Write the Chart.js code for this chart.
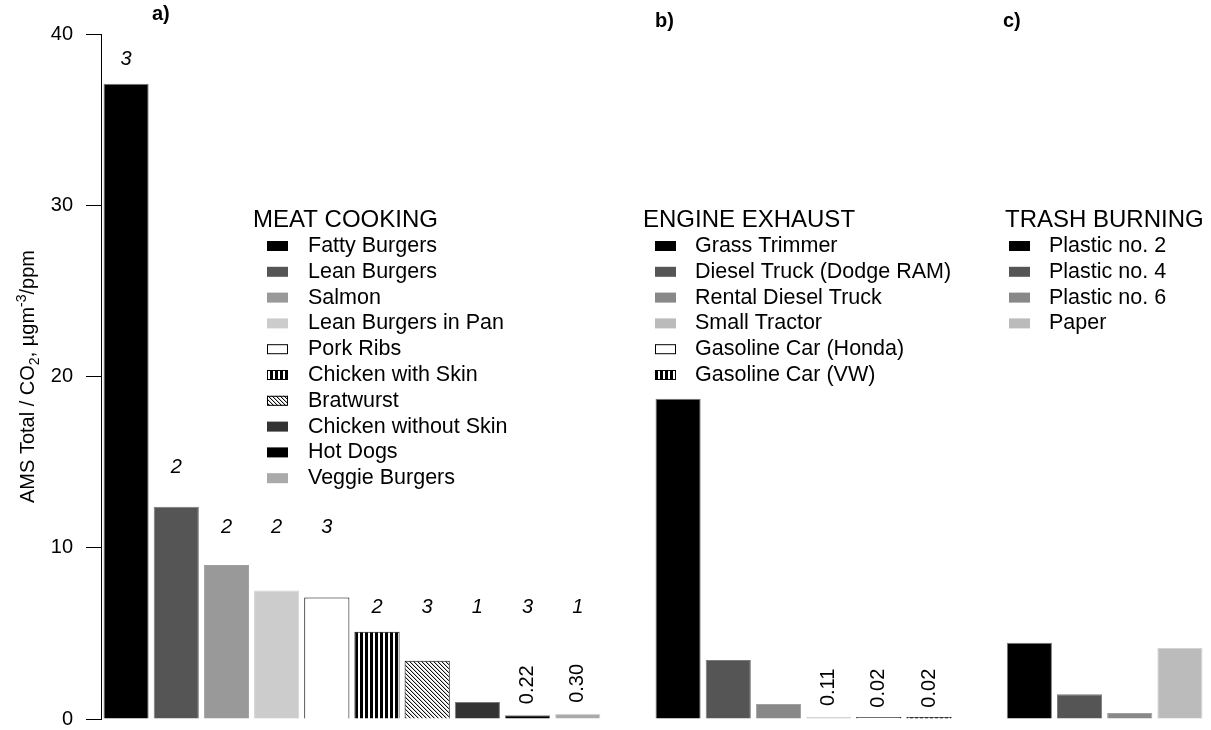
<!DOCTYPE html>
<html><head><meta charset="utf-8">
<script src="https://cdn.jsdelivr.net/npm/chart.js@4.4.0/dist/chart.umd.min.js"></script>
<style>html,body{margin:0;padding:0;background:#fff}#wrap{width:1211px;height:730px;position:relative}</style>
</head><body><div id="wrap"><canvas id="c"></canvas></div>
<script>
// ---------- data ----------
const meatCategories = ['Fatty Burgers','Lean Burgers','Salmon','Lean Burgers in Pan','Pork Ribs','Chicken with Skin','Bratwurst','Chicken without Skin','Hot Dogs','Veggie Burgers'];
const meatValues = [37.1, 12.4, 9.0, 7.5, 7.1, 5.1, 3.4, 1.0, 0.22, 0.30];
const meatCounts = [3, 2, 2, 2, 3, 2, 3, 1, 3, 1];
const engineCategories = ['Grass Trimmer','Diesel Truck (Dodge RAM)','Rental Diesel Truck','Small Tractor','Gasoline Car (Honda)','Gasoline Car (VW)'];
const engineValues = [18.7, 3.45, 0.88, 0.11, 0.02, 0.02];
const trashCategories = ['Plastic no. 2','Plastic no. 4','Plastic no. 6','Paper'];
const trashValues = [4.45, 1.45, 0.35, 4.15];
const yTicks = [0, 10, 20, 30, 40];
const groupTitles = ['MEAT COOKING', 'ENGINE EXHAUST', 'TRASH BURNING'];
const panelLabels = ['a)', 'b)', 'c)'];
const yTitleParts = ['AMS Total / CO', '2', ', µgm', '-3', '/ppm'];

// ---------- styles ----------
const meatFills = ['#000','#555','#999','#ccc','white','stripes','hatch','#333','#000','#aaa'];
const engineFills = ['#000','#555','#888','#bbb','white','stripes'];
const trashFills = ['#000','#555','#888','#bbb'];
const countLabelAt = [38.5, 14.7, 11.2, 11.2, 11.2, 6.5, 6.5, 6.5, 6.5, 6.5]; // annotation heights (axis units)
const valueLabelMax = 0.3;
const FONT = '"Liberation Sans", Arial, sans-serif';

const legendLayout = [
  {titleX: 253, swatchX: 267, textX: 308},
  {titleX: 643, swatchX: 655, textX: 695},
  {titleX: 1005, swatchX: 1009, textX: 1049}
];
const legendTitleY = 220, legendFirstY = 246, legendStep = 25.8;
const panelLabelPos = [[152, 14], [655, 21], [1003, 21]];

// ---------- patterns ----------
function makeStripes() {
  const c = document.createElement('canvas'); c.width = 5; c.height = 5;
  const g = c.getContext('2d');
  g.fillStyle = '#fff'; g.fillRect(0, 0, 5, 5);
  g.fillStyle = '#000'; g.fillRect(0, 0, 3, 5);
  return g.createPattern(c, 'repeat');
}
function makeHatch() {
  const c = document.createElement('canvas'); c.width = 4; c.height = 4;
  const g = c.getContext('2d');
  g.fillStyle = '#fff'; g.fillRect(0, 0, 4, 4);
  for (let i = 0; i < 4; i++) {
    g.fillStyle = '#111'; g.fillRect(i, i, 1, 1);
    g.fillStyle = '#c8c8c8'; g.fillRect((i + 1) % 4, i, 1, 1);
  }
  return g.createPattern(c, 'repeat');
}
const stripes = makeStripes();
const hatch = makeHatch();
function fillOf(f) { return f === 'stripes' ? stripes : f === 'hatch' ? hatch : f; }
function borderOf(f) {
  if (f === 'white' || f === 'stripes' || f === 'hatch') return '#000';
  if (f === '#000' || f === '#333' || f === '#555') return '#7a7a7a';
  if (f === '#888' || f === '#999') return '#a0a0a0';
  return '#d4d4d4';
}

// ---------- assemble ----------
const engineStart = meatValues.length + 1;
const trashStart = engineStart + engineValues.length + 1;
const labels = [...meatCategories, '', ...engineCategories, ' ', ...trashCategories];
const values = [...meatValues, null, ...engineValues, null, ...trashValues];
const fills = [...meatFills, 'white', ...engineFills, 'white', ...trashFills];

const groups = [
  {start: 0, cats: meatCategories, fills: meatFills},
  {start: engineStart, cats: engineCategories, fills: engineFills},
  {start: trashStart, cats: trashCategories, fills: trashFills}
];

const overlay = {
  id: 'overlay',
  afterDatasetsDraw(chart) {
    const {ctx, scales: {x, y}, chartArea} = chart;
    ctx.save();
    ctx.fillStyle = '#000';

    // y-axis title with sub/superscript
    ctx.save();
    ctx.translate(27, (chartArea.top + chartArea.bottom) / 2);
    ctx.rotate(-Math.PI / 2);
    const specs = [[20, 0], [14, 5], [20, 0], [14, -8], [20, 0]];
    let total = 0;
    yTitleParts.forEach((t, i) => { ctx.font = specs[i][0] + 'px ' + FONT; total += ctx.measureText(t).width; });
    let pos = -total / 2;
    ctx.textAlign = 'left'; ctx.textBaseline = 'alphabetic';
    yTitleParts.forEach((t, i) => {
      ctx.font = specs[i][0] + 'px ' + FONT;
      ctx.fillText(t, pos, 7 + specs[i][1]);
      pos += ctx.measureText(t).width;
    });
    ctx.restore();

    // panel labels
    ctx.font = 'bold 20px ' + FONT;
    ctx.textAlign = 'left'; ctx.textBaseline = 'middle';
    panelLabels.forEach((t, i) => ctx.fillText(t, panelLabelPos[i][0], panelLabelPos[i][1]));

    // replicate counts
    ctx.font = 'italic 20px ' + FONT;
    ctx.textAlign = 'center'; ctx.textBaseline = 'middle';
    meatCounts.forEach((n, i) => ctx.fillText(String(n), x.getPixelForValue(i), y.getPixelForValue(countLabelAt[i])));

    // small values, rotated
    ctx.font = '20px ' + FONT;
    values.forEach((v, i) => {
      if (v === null || v > valueLabelMax) return;
      ctx.save();
      ctx.translate(x.getPixelForValue(i), y.getPixelForValue(v) - 11);
      ctx.rotate(-Math.PI / 2);
      ctx.textAlign = 'left'; ctx.textBaseline = 'middle';
      ctx.fillText(v.toFixed(2), 0, 0);
      ctx.restore();
    });

    // legends
    groups.forEach((g, gi) => {
      const L = legendLayout[gi];
      ctx.font = '24px ' + FONT;
      ctx.textAlign = 'left'; ctx.textBaseline = 'middle';
      ctx.fillStyle = '#000';
      ctx.fillText(groupTitles[gi], L.titleX, legendTitleY);
      g.cats.forEach((cat, i) => {
        const cy = legendFirstY + i * legendStep;
        const f = g.fills[i];
        ctx.fillStyle = fillOf(f);
        ctx.fillRect(L.swatchX, cy - 5, 21, 10);
        if (f === 'white' || f === 'stripes' || f === 'hatch') {
          ctx.strokeStyle = '#000'; ctx.lineWidth = 1;
          ctx.strokeRect(L.swatchX + 0.5, cy - 4.5, 20, 9);
        }
        ctx.fillStyle = '#000';
        ctx.font = '21.5px ' + FONT;
        ctx.fillText(cat, L.textX, cy);
      });
    });
    ctx.restore();
  }
};

new Chart(document.getElementById('c'), {
  type: 'bar',
  data: {
    labels: labels,
    datasets: [{
      data: values,
      backgroundColor: fills.map(fillOf),
      borderColor: fills.map(borderOf),
      borderWidth: 1,
      barPercentage: 0.9,
      categoryPercentage: 1.0,
      minBarLength: 2
    }]
  },
  options: {
    responsive: true,
    maintainAspectRatio: false,
    animation: false,
    layout: {padding: {left: 0, right: 6, top: 34, bottom: 11}},
    plugins: {legend: {display: false}, tooltip: {enabled: false}},
    scales: {
      x: {display: false, offset: true},
      y: {
        min: 0, max: 40,
        afterFit(scale) { scale.width = 101; scale.paddingTop = 0; scale.paddingBottom = 0; },
        afterBuildTicks(scale) { scale.ticks = yTicks.map(v => ({value: v})); },
        grid: {drawOnChartArea: false, drawTicks: true, tickLength: 15, color: '#000', lineWidth: 1},
        border: {display: true, color: '#000', width: 1},
        ticks: {color: '#000', font: {family: FONT, size: 20}, padding: 13}
      }
    }
  },
  plugins: [overlay]
});
</script>
</body></html>
